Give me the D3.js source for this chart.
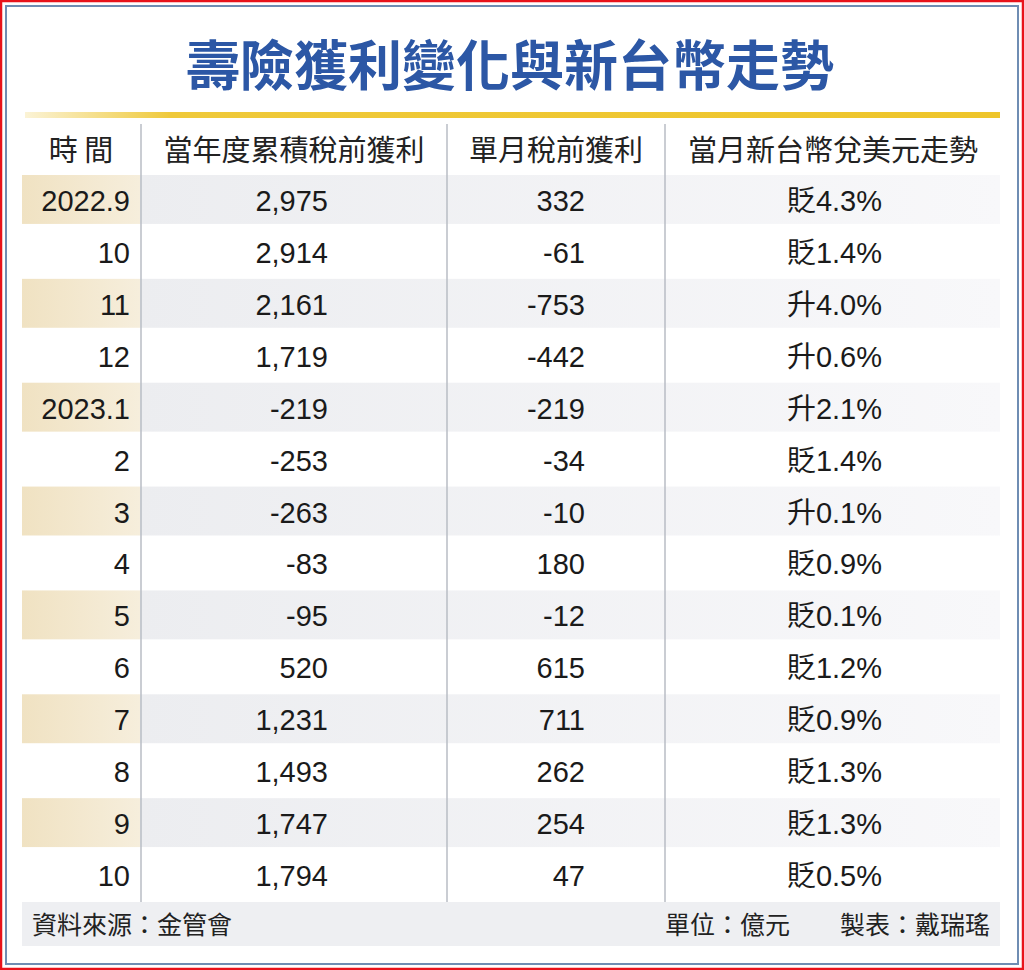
<!DOCTYPE html>
<html><head><meta charset="utf-8">
<script src="https://cdn.jsdelivr.net/npm/d3@7"></script>
<style>body{margin:0;background:#fff}svg{display:block}</style>
</head><body>
<script>
const periods = ["2022.9","10","11","12","2023.1","2","3","4","5","6","7","8","9","10"];
const cumulative = [2975,2914,2161,1719,-219,-253,-263,-83,-95,520,1231,1493,1747,1794];
const monthly = [332,-61,-753,-442,-219,-34,-10,180,-12,615,711,262,254,47];
const fxDir = ["貶","貶","升","升","升","貶","升","貶","貶","貶","貶","貶","貶","貶"];
const fxPct = [4.3,1.4,4.0,0.6,2.1,1.4,0.1,0.9,0.1,1.2,0.9,1.3,1.3,0.5];
const headers = ["時 間","當年度累積稅前獲利","單月稅前獲利","當月新台幣兌美元走勢"];

const W = 1024, H = 970;
const font = "'Liberation Sans','Noto Sans CJK TC','Noto Sans CJK SC',sans-serif";
const cjk = "'Noto Sans CJK TC','Noto Sans CJK SC',sans-serif";
const svg = d3.select("body").append("svg").attr("width", W).attr("height", H);
const defs = svg.append("defs");

function grad(id, stops) {
  const g = defs.append("linearGradient").attr("id", id);
  stops.forEach(s => g.append("stop").attr("offset", s[0]).attr("stop-color", s[1]));
}
grad("gold", [[0, "#fbf3d6"], [0.15, "#efc93a"], [1, "#eec52a"]]);
grad("beige", [[0, "#f0e2c2"], [1, "#f6eedc"]]);
grad("grey", [[0, "#ecedf0"], [1, "#f8f8fa"]]);

svg.append("rect").attr("x", 1).attr("y", 1).attr("width", W - 2).attr("height", H - 2)
  .attr("fill", "none").attr("stroke", "#e8131b").attr("stroke-width", 2.5);
svg.append("rect").attr("x", 6).attr("y", 6).attr("width", W - 12).attr("height", H - 12)
  .attr("fill", "none").attr("stroke", "#6f8db3").attr("stroke-width", 2);

svg.append("text").attr("x", 510).attr("y", 86).attr("text-anchor", "middle")
  .attr("font-family", cjk).attr("font-weight", 700).attr("font-size", 54)
  .attr("fill", "#2c57a5").text("壽險獲利變化與新台幣走勢");
svg.append("rect").attr("x", 25).attr("y", 112).attr("width", 975).attr("height", 6).attr("fill", "url(#gold)");

// columns: [left, right, text anchor x]
const cols = [[22, 140, 130], [142, 446, 328], [448, 664, 585], [666, 1000, 882]];
const y = d3.scaleBand().domain(d3.range(periods.length)).range([175, 902]).paddingInner(0);

svg.selectAll("text.h").data(headers).join("text")
  .attr("x", (d, i) => (cols[i][0] + cols[i][1]) / 2).attr("y", 161)
  .attr("text-anchor", "middle").attr("font-family", cjk).attr("font-size", 29)
  .attr("fill", "#222").text(d => d);

const rows = svg.selectAll("g.row").data(periods).join("g")
  .attr("transform", (d, i) => `translate(0,${y(i)})`);
rows.filter((d, i) => i % 2 === 0).each(function () {
  const g = d3.select(this);
  g.append("rect").attr("x", 22).attr("width", 118).attr("height", y.bandwidth() - 3).attr("fill", "url(#beige)");
  g.append("rect").attr("x", 140).attr("width", 860).attr("height", y.bandwidth() - 3).attr("fill", "url(#grey)");
});
const fmt = d3.format(",");
const num = v => fmt(v).replace("\u2212", "-");
const cellText = i => [periods[i], num(cumulative[i]), num(monthly[i]), fxDir[i] + fxPct[i].toFixed(1) + "%"];
rows.each(function (d, i) {
  d3.select(this).selectAll("text").data(cellText(i)).join("text")
    .attr("x", (t, c) => cols[c][2]).attr("y", y.bandwidth() / 2 + 10)
    .attr("text-anchor", "end").attr("font-family", font).attr("font-size", 29)
    .attr("fill", "#1a1a1a").text(t => t);
});

[141, 447, 665].forEach(x => svg.append("line").attr("x1", x).attr("x2", x)
  .attr("y1", 124).attr("y2", 902).attr("stroke", "#b9bcc4").attr("stroke-width", 1.5));

svg.append("rect").attr("x", 22).attr("y", 902).attr("width", 978).attr("height", 44).attr("fill", "#eeeff2");
svg.append("text").attr("x", 32).attr("y", 934).attr("font-family", cjk).attr("font-size", 25)
  .attr("fill", "#222").text("資料來源：金管會");
svg.append("text").attr("x", 990).attr("y", 934).attr("text-anchor", "end").attr("font-family", cjk)
  .attr("font-size", 25).attr("fill", "#222").attr("xml:space", "preserve").text("單位：億元　　製表：戴瑞瑤");
</script>
</body></html>
